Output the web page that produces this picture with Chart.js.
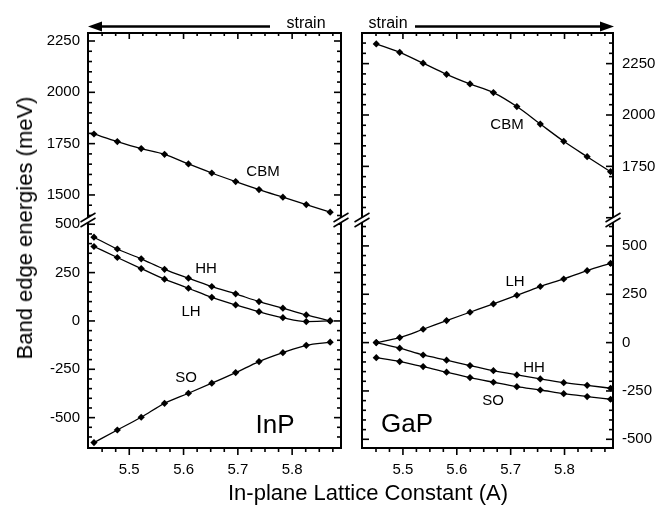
<!DOCTYPE html>
<html><head><meta charset="utf-8">
<script src="https://cdn.jsdelivr.net/npm/chart.js@4.4.1/dist/chart.umd.min.js"></script>
<style>
html,body{margin:0;padding:0;background:#fff;}
#wrap{position:relative;width:670px;height:506px;overflow:hidden;font-family:"Liberation Sans",Arial,sans-serif;color:#000;}
canvas{position:absolute;left:0;top:0;}
.t{position:absolute;transform:translate(-50%,-50%);white-space:nowrap;line-height:1;font-size:15px;}
</style></head>
<body><div id="wrap">
<canvas id="cL" width="670" height="506"></canvas>
<canvas id="cR" width="670" height="506"></canvas>
<div class="t" style="left:25px;top:228px;font-size:22px;transform:translate(-50%,-50%) rotate(-90deg)">Band edge energies (meV)</div>
<div class="t" style="left:368px;top:493px;font-size:22px;">In-plane Lattice Constant (A)</div>
<div class="t" style="left:306px;top:23px;font-size:16px;">strain</div>
<div class="t" style="left:388px;top:23px;font-size:16px;">strain</div>
<div class="t" style="left:263px;top:170px;">CBM</div>
<div class="t" style="left:206px;top:267px;">HH</div>
<div class="t" style="left:191px;top:310px;">LH</div>
<div class="t" style="left:186px;top:376px;">SO</div>
<div class="t" style="left:275px;top:424px;font-size:26px;">InP</div>
<div class="t" style="left:507px;top:123px;">CBM</div>
<div class="t" style="left:515px;top:280px;">LH</div>
<div class="t" style="left:534px;top:366px;">HH</div>
<div class="t" style="left:493px;top:399px;">SO</div>
<div class="t" style="left:407px;top:423px;font-size:26px;">GaP</div>
</div>
<script>
// ---- data ----
const inpLattice = [5.435, 5.478, 5.522, 5.565, 5.609, 5.652, 5.696, 5.739, 5.783, 5.826, 5.870];
const inpCBM = [1797, 1760, 1726, 1698, 1651, 1607, 1565, 1526, 1489, 1453, 1416];
const inpHH  = [433, 372, 321, 267, 221, 178, 140, 100, 66, 31, 0];
const inpLH  = [385, 328, 271, 216, 169, 122, 83, 48, 17, -3, 0];
const inpSO  = [-629, -564, -498, -426, -374, -322, -267, -210, -164, -126, -110];

const gapLattice = [5.4505, 5.494, 5.5375, 5.581, 5.6245, 5.668, 5.7115, 5.755, 5.7985, 5.842, 5.8855];
const gapCBM = [2346, 2305, 2252, 2198, 2151, 2109, 2041, 1956, 1872, 1797, 1724];
const gapLH  = [0, 26, 69, 114, 157, 200, 245, 290, 329, 372, 410];
const gapHH  = [0, -29, -64, -91, -119, -145, -167, -188, -207, -221, -236];
const gapSO  = [-78, -98, -124, -153, -181, -205, -228, -245, -264, -279, -293];

const xTickLabels = [5.5, 5.6, 5.7, 5.8];
const inpTopTicks = [1500, 1750, 2000, 2250];
const gapTopTicks = [1750, 2000, 2250];
const bottomTicks = [-500, -250, 0, 250, 500];

// ---- drawing ----
const FONT = '"Liberation Sans", Arial, sans-serif';

function line(ctx, x1, y1, x2, y2) { ctx.beginPath(); ctx.moveTo(x1, y1); ctx.lineTo(x2, y2); ctx.stroke(); }

const framePlugin = {
  id: 'frame',
  afterDraw(chart, args, opts) {
    const ctx = chart.ctx, a = chart.chartArea;
    ctx.save();
    ctx.strokeStyle = '#000';
    ctx.lineWidth = 2;
    ctx.strokeRect(a.left, a.top, a.right - a.left, a.bottom - a.top);
    ctx.lineWidth = 1.6;
    for (const id of ['yTop', 'yBot']) {
      const s = chart.scales[id];
      for (let v = Math.ceil(s.min / 50) * 50; v <= s.max; v += 50) {
        const p = s.getPixelForValue(v);
        if (p < s.top + 2 || p > s.bottom - 2) continue;
        const len = (v % 250 === 0) ? 7 : 4;
        line(ctx, a.left, p, a.left + len, p);
        line(ctx, a.right, p, a.right - len, p);
      }
    }
    const sx = chart.scales.x;
    for (let k = Math.ceil(sx.min / 0.025 - 1e-9); k * 0.025 <= sx.max + 1e-9; k++) {
      const p = sx.getPixelForValue(k * 0.025);
      if (p <= a.left + 1 || p >= a.right - 1) continue;
      const major = k % 4 === 0;
      line(ctx, p, a.top, p, a.top + (major ? 6 : 3));
      line(ctx, p, a.bottom, p, a.bottom + (major ? 7 : 4));
    }
    // axis break marks
    const yb = chart.scales.yTop.bottom;
    for (const xa of [a.left, a.right]) {
      ctx.fillStyle = '#fff';
      ctx.beginPath();
      ctx.moveTo(xa - 7.5, yb + 2); ctx.lineTo(xa + 7.5, yb - 7);
      ctx.lineTo(xa + 7.5, yb - 2); ctx.lineTo(xa - 7.5, yb + 7);
      ctx.closePath(); ctx.fill();
      ctx.lineWidth = 1.5;
      line(ctx, xa - 7.5, yb + 2, xa + 7.5, yb - 7);
      line(ctx, xa - 7.5, yb + 7, xa + 7.5, yb - 2);
    }
    // strain arrows
    if (opts.arrow === 'left') {
      ctx.lineWidth = 2.5;
      line(ctx, 99, 26.5, 270, 26.5);
      ctx.fillStyle = '#000';
      ctx.beginPath(); ctx.moveTo(88, 26.5); ctx.lineTo(102, 21.5); ctx.lineTo(102, 31.5); ctx.closePath(); ctx.fill();
    } else if (opts.arrow === 'right') {
      ctx.lineWidth = 2.5;
      line(ctx, 415, 26.5, 603, 26.5);
      ctx.fillStyle = '#000';
      ctx.beginPath(); ctx.moveTo(614, 26.5); ctx.lineTo(600, 21.5); ctx.lineTo(600, 31.5); ctx.closePath(); ctx.fill();
    }
    ctx.restore();
  }
};

function ds(xs, ys, axis) {
  return {
    data: xs.map((x, i) => ({ x: x, y: ys[i] })),
    yAxisID: axis,
    borderColor: '#000', backgroundColor: '#000',
    borderWidth: 1.3, pointStyle: 'rectRot', pointRadius: 3.6, pointBorderWidth: 0,
    tension: 0.4, cubicInterpolationMode: 'monotone', clip: false
  };
}

function makeChart(id, side, xs, cbm, hh, lh, so, topTicks, topRange, botRange, arrow) {
  const left = side === 'left';
  const tickFont = { family: FONT, size: 15 };
  const yCommon = (ticksArr, range, weight) => ({
    type: 'linear', position: side, stack: 'st', stackWeight: weight,
    min: range[0], max: range[1],
    afterBuildTicks: s => { s.ticks = ticksArr.map(v => ({ value: v })); },
    afterFit: s => { s.width = left ? 88 : 57; },
    grid: { display: false, drawTicks: false }, border: { display: false },
    ticks: { font: tickFont, color: '#000', padding: left ? 8 : 9, autoSkip: false, callback: v => String(v) }
  });
  const scales = {
    x: {
      type: 'linear', position: 'bottom', min: 5.424, max: 5.89,
      afterBuildTicks: s => { s.ticks = xTickLabels.map(v => ({ value: v })); },
      afterFit: s => { s.height = 58; },
      grid: { display: false, drawTicks: false }, border: { display: false },
      ticks: { font: tickFont, color: '#000', padding: 13, autoSkip: false, maxRotation: 0, callback: v => v.toFixed(1) }
    }
  };
  if (left) {
    scales.yBot = yCommon(bottomTicks, botRange, 228);
    scales.yTop = yCommon(topTicks, topRange, 187);
  } else {
    scales.yTop = yCommon(topTicks, topRange, 187);
    scales.yBot = yCommon(bottomTicks, botRange, 228);
  }
  return new Chart(document.getElementById(id), {
    type: 'line',
    data: { datasets: [ds(xs, cbm, 'yTop'), ds(xs, hh, 'yBot'), ds(xs, lh, 'yBot'), ds(xs, so, 'yBot')] },
    options: {
      responsive: false, animation: false, devicePixelRatio: 1,
      layout: { padding: left ? { left: 0, right: 329, top: 33, bottom: 0 } : { left: 362, right: 0, top: 33, bottom: 0 } },
      plugins: { legend: { display: false }, tooltip: { enabled: false }, frame: { arrow: arrow } },
      scales: scales
    },
    plugins: [framePlugin]
  });
}

makeChart('cL', 'left', inpLattice, inpCBM, inpHH, inpLH, inpSO, inpTopTicks, [1378, 2289], [-657, 522], 'left');
makeChart('cR', 'right', gapLattice, gapCBM, gapHH, gapLH, gapSO, gapTopTicks, [1489, 2399], [-545, 634], 'right');
</script>
</body></html>
